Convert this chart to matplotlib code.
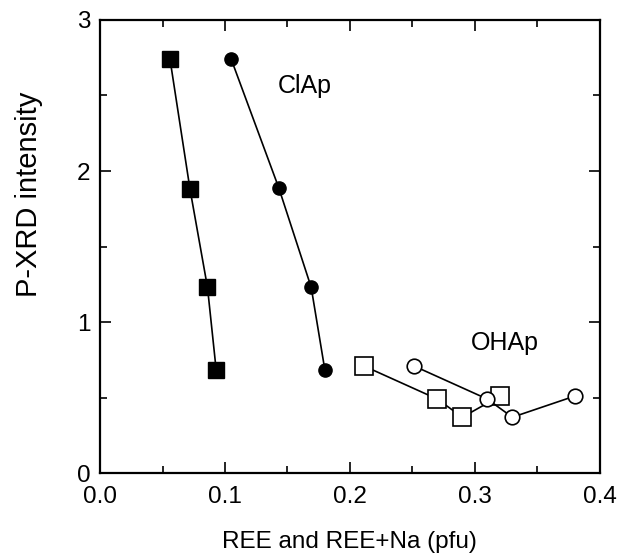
import matplotlib.pyplot as plt

plt.rcParams["font.family"] = ["Liberation Sans", "DejaVu Sans"]

# ClAp series (filled markers)
clap_sq_x = [0.056, 0.072, 0.086, 0.093]
clap_sq_y = [2.74, 1.88, 1.23, 0.68]
clap_ci_x = [0.105, 0.143, 0.169, 0.180]
clap_ci_y = [2.74, 1.89, 1.23, 0.68]

# OHAp series (open markers)
ohap_sq_x = [0.211, 0.270, 0.290, 0.320]
ohap_sq_y = [0.71, 0.49, 0.37, 0.51]
ohap_ci_x = [0.251, 0.310, 0.330, 0.380]
ohap_ci_y = [0.71, 0.49, 0.37, 0.51]

fig = plt.figure(figsize=(6.19, 5.54), dpi=100)
ax = fig.add_axes([0.1616, 0.146, 0.8074, 0.818])

ax.plot(clap_sq_x, clap_sq_y, "-s", color="black", lw=1.2, ms=11.5, mfc="black", mec="black")
ax.plot(clap_ci_x, clap_ci_y, "-o", color="black", lw=1.2, ms=9.5, mfc="black", mec="black")
ax.plot(ohap_sq_x, ohap_sq_y, "-s", color="black", lw=1.2, ms=12.5, mfc="white", mec="black", mew=1.2)
ax.plot(ohap_ci_x, ohap_ci_y, "-o", color="black", lw=1.2, ms=10.5, mfc="white", mec="black", mew=1.2)

ax.text(0.164, 2.56, "ClAp", fontsize=18, ha="center", va="center")
ax.text(0.324, 0.86, "OHAp", fontsize=18, ha="center", va="center")

ax.set_xlim(0, 0.4)
ax.set_ylim(0, 3)
ax.set_xticks([0.0, 0.1, 0.2, 0.3, 0.4])
ax.set_xticklabels(["0.0", "0.1", "0.2", "0.3", "0.4"])
ax.set_yticks([0, 1, 2, 3])
ax.set_xticks([0.05, 0.15, 0.25, 0.35], minor=True)
ax.set_yticks([0.5, 1.5, 2.5], minor=True)
ax.tick_params(which="both", direction="in", top=True, right=True, labelsize=17.5, width=1.2)
ax.tick_params(which="major", length=8)
ax.tick_params(axis="x", which="major", pad=9)
ax.tick_params(axis="y", which="major", pad=7)
ax.tick_params(which="minor", length=5)
for s in ax.spines.values():
    s.set_linewidth(1.6)

ax.set_xlabel("REE and REE+Na (pfu)", fontsize=17.5, labelpad=17)
ax.set_ylabel("P-XRD intensity", fontsize=21)
# the y label sits above the axis middle in the original
ax.yaxis.set_label_coords(-0.115, 0.615)

fig.savefig("out.png", dpi=100)
